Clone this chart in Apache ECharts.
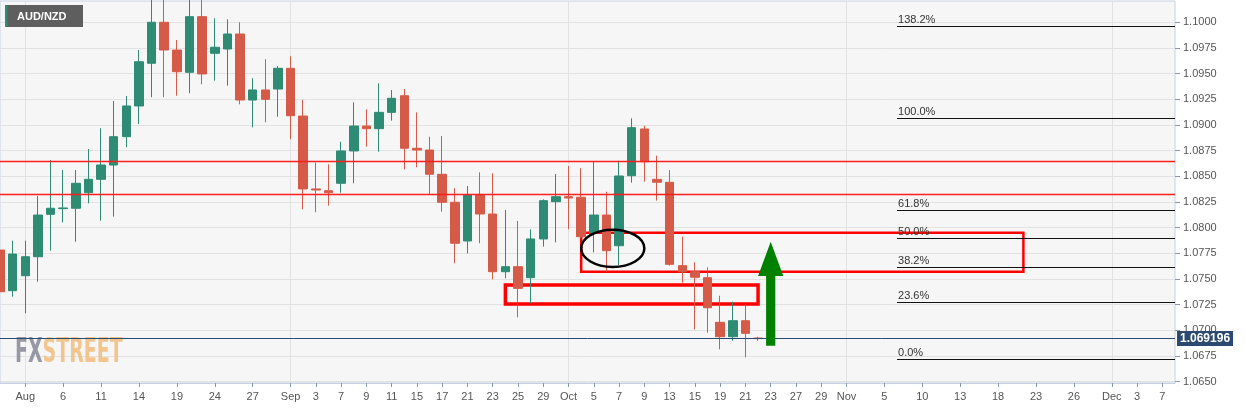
<!DOCTYPE html>
<html><head><meta charset="utf-8">
<script src="https://cdn.jsdelivr.net/npm/echarts@6/dist/echarts.min.js"></script>
<style>html,body{margin:0;padding:0;background:#fff}#c{width:1245px;height:410px}</style>
</head><body><div id="c"></div>
<script>
// ---- DATA ----
const opens  = [1.07782,1.07386,1.07532,1.07717,1.08130,1.08185,1.08189,1.08340,1.08471,1.08610,1.08886,1.09185,1.09601,1.10000,1.09730,1.09513,1.10055,1.09698,1.09740,1.09886,1.09243,1.09341,1.09350,1.09552,1.09087,1.08377,1.08360,1.08432,1.08747,1.08990,1.08964,1.09123,1.09285,1.08773,1.08756,1.08520,1.08247,1.07870,1.08318,1.08133,1.07571,1.07620,1.07513,1.07890,1.08253,1.08302,1.08296,1.07948,1.08123,1.07824,1.08506,1.08961,1.08471,1.08442,1.07630,1.07571,1.07513,1.07078,1.06938,1.07094,1.06925];
const highs  = [1.08026,1.07873,1.07873,1.08308,1.08659,1.08562,1.08562,1.08766,1.08968,1.09234,1.09282,1.09730,1.10300,1.10280,1.09828,1.10300,1.10310,1.10039,1.10029,1.10000,1.09455,1.09640,1.09574,1.09669,1.09243,1.08633,1.08617,1.08837,1.09221,1.09153,1.09406,1.09341,1.09350,1.09123,1.08886,1.08893,1.08383,1.08406,1.08539,1.08529,1.08172,1.08065,1.07984,1.08276,1.08523,1.08601,1.08578,1.08642,1.08350,1.08652,1.09065,1.08993,1.08701,1.08562,1.07912,1.07663,1.07614,1.07337,1.07279,1.07256,1.06938];
const lows   = [1.07344,1.07328,1.07166,1.07474,1.07776,1.08052,1.07863,1.08237,1.08068,1.08107,1.08783,1.09010,1.09270,1.09270,1.09285,1.09309,1.09396,1.09431,1.09383,1.09201,1.08977,1.09026,1.09081,1.08861,1.08179,1.08150,1.08214,1.08340,1.08432,1.08788,1.08740,1.09042,1.08568,1.08588,1.08328,1.08155,1.07653,1.07750,1.07848,1.07497,1.07507,1.07127,1.07263,1.07815,1.07857,1.07984,1.07899,1.07760,1.07571,1.07636,1.08438,1.08448,1.08263,1.07630,1.07464,1.07010,1.06977,1.06815,1.06899,1.06737,1.06899];
const closes = [1.07376,1.07743,1.07717,1.08123,1.08189,1.08192,1.08432,1.08471,1.08610,1.08886,1.09185,1.09616,1.10000,1.09730,1.09519,1.10055,1.09497,1.09757,1.09886,1.09243,1.09341,1.09250,1.09552,1.09090,1.08377,1.08367,1.08340,1.08747,1.08990,1.08964,1.09123,1.09260,1.08773,1.08756,1.08520,1.08247,1.07848,1.08318,1.08133,1.07571,1.07620,1.07409,1.07890,1.08263,1.08302,1.08289,1.07912,1.08123,1.07776,1.08503,1.08974,1.08642,1.08442,1.07643,1.07571,1.07517,1.07220,1.06938,1.07094,1.06971,1.069196];

const xTickLabels = [['2020-08-03','Aug'],['2020-08-06','6'],['2020-08-11','11'],['2020-08-14','14'],['2020-08-19','19'],['2020-08-24','24'],['2020-08-27','27'],['2020-09-01','Sep'],['2020-09-03','3'],['2020-09-07','7'],['2020-09-09','9'],['2020-09-11','11'],['2020-09-15','15'],['2020-09-17','17'],['2020-09-21','21'],['2020-09-23','23'],['2020-09-25','25'],['2020-09-29','29'],['2020-10-01','Oct'],['2020-10-05','5'],['2020-10-07','7'],['2020-10-09','9'],['2020-10-13','13'],['2020-10-15','15'],['2020-10-19','19'],['2020-10-21','21'],['2020-10-23','23'],['2020-10-27','27'],['2020-10-29','29'],['2020-11-02','Nov'],['2020-11-05','5'],['2020-11-10','10'],['2020-11-13','13'],['2020-11-18','18'],['2020-11-23','23'],['2020-11-26','26'],['2020-12-01','Dec'],['2020-12-03','3'],['2020-12-07','7']];
const monthStarts = ['2020-08-03','2020-09-01','2020-10-01','2020-11-02','2020-12-01'];
const yTicks = [1.0650,1.0675,1.0700,1.0725,1.0750,1.0775,1.0800,1.0825,1.0850,1.0875,1.0900,1.0925,1.0950,1.0975,1.1000];

const fibLabels = ['138.2%','100.0%','61.8%','50.0%','38.2%','23.6%','0.0%'];
const fibValues = [1.09961,1.09065,1.08169,1.07893,1.07616,1.07273,1.06720];
const fibStart = '2020-11-06', fibEnd = '2020-12-08';
const redLevels = [1.08642, 1.08328];
const lastPrice = 1.069196;
const boxes = [
  {x0:'2020-10-02', y0:1.07951, x1:'2020-11-20', y1:1.07571},
  {x0:'2020-09-24', y0:1.07442, x1:'2020-10-22', y1:1.07256}
];
const ellipseBox = {x0:'2020-10-02', x1:'2020-10-09', y0:1.07980, y1:1.07617};
const arrow = {date:'2020-10-23', bottom:1.06850, headBase:1.07529, tip:1.07863};

// ---- categories (trading days) ----
const dates = [];
for (let d = new Date(Date.UTC(2020,6,30)); d <= new Date(Date.UTC(2020,11,8)); d.setUTCDate(d.getUTCDate()+1)) {
  const w = d.getUTCDay(); if (w === 0 || w === 6) continue;
  dates.push(d.toISOString().slice(0,10));
}
const labelMap = {}; xTickLabels.forEach(([d,l]) => labelMap[d] = l);
const candle = opens.map((o,i) => [o, closes[i], lows[i], highs[i]]);

const FONT = 'Liberation Sans, Arial, sans-serif';
const GREEN = '#2e8b74', RED = '#d65a48';

const chart = echarts.init(document.getElementById('c'));
chart.setOption({
  animation: false,
  backgroundColor: '#ffffff',
  textStyle: {fontFamily: FONT},
  grid: {left: 0, right: 70, top: 1, bottom: 27, show: true, backgroundColor: '#f6f6f6', borderColor: '#c8d0e2', borderWidth: 1},
  xAxis: {
    type: 'category', data: dates, boundaryGap: false,
    axisLine: {show: true, lineStyle: {color: '#c8d0e2'}},
    axisTick: {show: true, length: 4, interval: (i, v) => v in labelMap, lineStyle: {color: '#8a96b0'}},
    axisLabel: {interval: (i, v) => v in labelMap, formatter: v => labelMap[v] || '', color: '#555', fontSize: 11, margin: 8, fontFamily: FONT, hideOverlap: false},
    splitLine: {show: true, interval: (i, v) => monthStarts.indexOf(v) >= 0, lineStyle: {color: '#e2e2e2'}}
  },
  yAxis: {
    type: 'value', position: 'right', min: 1.064872, max: 1.102074, scale: true,
    axisLine: {show: false},
    axisTick: {show: true, length: 5, customValues: yTicks, lineStyle: {color: '#8a96b0'}},
    axisLabel: {customValues: yTicks, formatter: v => v.toFixed(4), color: '#555', fontSize: 11, margin: 8, fontFamily: FONT},
    splitLine: {show: true, lineStyle: {color: '#e2e2e2'}}
  },
  series: [
    {
      type: 'line', name: 'levels', data: [], silent: true,
      markLine: {
        silent: true, symbol: ['none','none'], animation: false, precision: 6,
        lineStyle: {color: '#ff1f1f', width: 1.3, type: 'solid', opacity: 1},
        label: {show: false},
        data: redLevels.map(v => ({yAxis: v}))
      }
    },
    {
      type: 'line', name: 'last', data: [], silent: true,
      markLine: {
        silent: true, symbol: ['none','none'], animation: false, precision: 6,
        lineStyle: {color: '#2b4a6f', width: 1, type: 'solid'},
        label: {show: true, position: 'end', distance: 2, formatter: () => lastPrice.toFixed(6), color: '#fff', fontWeight: 'bold', fontSize: 12, fontFamily: FONT, backgroundColor: '#2b4a6f', padding: [2, 3, 1, 3]},
        data: [{yAxis: lastPrice}]
      }
    },
    {
      type: 'line', name: 'fib', data: [], silent: true,
      markLine: {
        silent: true, symbol: ['none','none'], animation: false, precision: 6,
        lineStyle: {color: '#111', width: 1, type: 'solid'},
        label: {show: true, position: 'insideStartTop', distance: 1, color: '#333', fontSize: 11, fontFamily: FONT},
        data: fibValues.map((v, i) => [
          {coord: [fibStart, v], label: {formatter: fibLabels[i]}},
          {coord: [fibEnd, v]}
        ])
      }
    },
    {
      type: 'candlestick', data: candle, barWidth: 9, z: 3,
      itemStyle: {color: GREEN, color0: RED, borderColor: GREEN, borderColor0: RED, borderWidth: 1},
      markArea: {
        silent: true,
        data: boxes.map((b, i) => [
          {xAxis: b.x0, yAxis: b.y0, itemStyle: {color: 'rgba(0,0,0,0)', borderColor: '#ff0000', borderWidth: i === 0 ? 2.5 : 3.5}},
          {xAxis: b.x1, yAxis: b.y1}
        ])
      }
    }
  ]
});

function px(cat, val) { return chart.convertToPixel({gridIndex: 0}, [dates.indexOf(cat), val]); }
const e0 = px(ellipseBox.x0, ellipseBox.y0), e1 = px(ellipseBox.x1, ellipseBox.y1);
const aTip = px(arrow.date, arrow.tip), aBase = px(arrow.date, arrow.headBase), aBot = px(arrow.date, arrow.bottom);
const xc = aTip[0], sw = 4.6, hw = 12.6;

chart.setOption({
  graphic: [
    {type: 'ellipse', z: 100, shape: {cx: (e0[0]+e1[0])/2, cy: (e0[1]+e1[1])/2, rx: Math.abs(e1[0]-e0[0])/2, ry: Math.abs(e1[1]-e0[1])/2},
      style: {fill: 'none', stroke: '#000', lineWidth: 2.5}},
    {type: 'polygon', z: 100, shape: {points: [[xc-sw, aBot[1]], [xc-sw, aBase[1]], [xc-hw, aBase[1]], [xc, aTip[1]], [xc+hw, aBase[1]], [xc+sw, aBase[1]], [xc+sw, aBot[1]]]},
      style: {fill: '#008000'}},
    {type: 'rect', z: 100, shape: {x: 5, y: 5, width: 78, height: 22}, style: {fill: '#5e5e5e'}},
    {type: 'rect', z: 101, shape: {x: 5, y: 5, width: 2.5, height: 22}, style: {fill: GREEN}},
    {type: 'text', z: 101, x: 17, y: 16.5, style: {text: 'AUD/NZD', fill: '#fff', font: 'bold 11px Liberation Sans, Arial, sans-serif', verticalAlign: 'middle'}},
    {type: 'text', z: 1, x: 15, y: 353, scaleX: 0.62, scaleY: 0.97, style: {
      text: '{a|FX}{b|STREET}', verticalAlign: 'middle', opacity: 0.9,
      rich: {
        a: {fill: '#8c8f9c', fontSize: 34, fontWeight: 'bold', fontFamily: 'DejaVu Sans Condensed, DejaVu Sans'},
        b: {fill: '#f2c083', fontSize: 34, fontWeight: 'bold', fontFamily: 'DejaVu Sans Condensed, DejaVu Sans'}
      }}}
  ]
});
</script>
</body></html>
